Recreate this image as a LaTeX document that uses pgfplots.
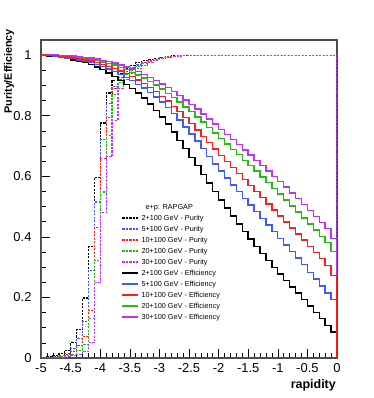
\documentclass[border=0pt]{standalone}
\usepackage{fontspec}
\setmainfont{Liberation Sans}
\usepackage{pgfplots}
\usepackage{pgfplotstable}
\pgfplotsset{compat=1.18}

\definecolor{cblue}{RGB}{60,90,255}
\definecolor{cred}{RGB}{255,30,30}
\definecolor{cgreen}{RGB}{40,185,20}
\definecolor{cpurple}{RGB}{190,50,255}

% efficiency, bin left edges (width 0.1)
\pgfplotstableread{
x     e2    e5    e10   e20   e30
-5.0  0     0     0     0     0
-5.0  0.999 0.999 1.000 1.000 1.000
-4.9  0.997 0.998 0.999 1.000 1.000
-4.8  0.995 0.996 0.998 0.999 1.000
-4.7  0.992 0.994 0.996 0.998 0.999
-4.6  0.988 0.991 0.994 0.997 0.998
-4.5  0.984 0.988 0.991 0.995 0.997
-4.4  0.980 0.984 0.988 0.993 0.995
-4.3  0.975 0.980 0.984 0.990 0.993
-4.2  0.969 0.975 0.980 0.987 0.990
-4.1  0.961 0.969 0.975 0.983 0.987
-4.0  0.952 0.962 0.969 0.978 0.983
-3.9  0.941 0.954 0.963 0.973 0.979
-3.8  0.929 0.946 0.956 0.967 0.974
-3.7  0.917 0.937 0.948 0.960 0.968
-3.6  0.904 0.927 0.939 0.952 0.961
-3.5  0.890 0.916 0.929 0.943 0.954
-3.4  0.875 0.904 0.918 0.934 0.946
-3.3  0.858 0.891 0.906 0.924 0.937
-3.2  0.839 0.877 0.893 0.913 0.927
-3.1  0.818 0.862 0.879 0.901 0.916
-3.0  0.796 0.845 0.864 0.888 0.905
-2.9  0.772 0.827 0.848 0.874 0.893
-2.8  0.746 0.807 0.831 0.860 0.880
-2.7  0.719 0.786 0.813 0.845 0.866
-2.6  0.691 0.763 0.794 0.829 0.852
-2.5  0.663 0.740 0.774 0.813 0.837
-2.4  0.635 0.716 0.753 0.796 0.822
-2.3  0.606 0.691 0.732 0.779 0.806
-2.2  0.578 0.666 0.711 0.761 0.789
-2.1  0.550 0.641 0.690 0.743 0.772
-2.0  0.522 0.617 0.669 0.725 0.755
-1.9  0.495 0.594 0.649 0.707 0.738
-1.8  0.469 0.571 0.629 0.689 0.721
-1.7  0.443 0.549 0.609 0.671 0.704
-1.6  0.418 0.527 0.589 0.653 0.687
-1.5  0.393 0.505 0.569 0.635 0.670
-1.4  0.369 0.483 0.549 0.617 0.653
-1.3  0.345 0.461 0.529 0.598 0.636
-1.2  0.322 0.439 0.509 0.579 0.618
-1.1  0.299 0.417 0.489 0.560 0.600
-1.0  0.277 0.395 0.469 0.541 0.582
-0.9  0.256 0.373 0.449 0.522 0.564
-0.8  0.235 0.351 0.429 0.502 0.545
-0.7  0.214 0.330 0.409 0.482 0.526
-0.6  0.194 0.309 0.389 0.462 0.507
-0.5  0.172 0.283 0.369 0.442 0.488
-0.4  0.151 0.261 0.349 0.422 0.468
-0.3  0.130 0.238 0.329 0.402 0.448
-0.2  0.108 0.215 0.306 0.381 0.428
-0.1  0.086 0.193 0.273 0.352 0.395
 0.0  0     0     0     0     0
}\eff

% purity
\pgfplotstableread{
x     p2    p5    p10   p20   p30
-5.0  0     0     0     0     0
-5.0  0.002 0.001 0.000 0.000 0.000
-4.9  0.004 0.002 0.001 0.001 0.000
-4.8  0.008 0.005 0.003 0.002 0.001
-4.7  0.014 0.009 0.006 0.004 0.002
-4.6  0.025 0.016 0.011 0.007 0.004
-4.5  0.050 0.032 0.021 0.013 0.007
-4.4  0.095 0.065 0.040 0.025 0.012
-4.3  0.198 0.120 0.070 0.045 0.022
-4.2  0.367 0.290 0.158 0.130 0.050
-4.1  0.597 0.515 0.430 0.323 0.250
-4.0  0.776 0.720 0.660 0.548 0.480
-3.9  0.875 0.840 0.795 0.736 0.664
-3.8  0.917 0.895 0.890 0.870 0.785
-3.7  0.940 0.925 0.920 0.910 0.890
-3.6  0.955 0.945 0.940 0.935 0.920
-3.5  0.966 0.958 0.955 0.950 0.940
-3.4  0.975 0.968 0.966 0.962 0.955
-3.3  0.981 0.976 0.975 0.972 0.967
-3.2  0.986 0.982 0.982 0.980 0.976
-3.1  0.990 0.987 0.987 0.986 0.983
-3.0  0.993 0.991 0.991 0.990 0.988
-2.9  0.995 0.994 0.994 0.993 0.992
-2.8  0.997 0.996 0.996 0.995 0.995
-2.7  0.998 0.997 0.997 0.997 0.997
-2.6  0.999 0.998 0.998 0.998 0.998
-2.5  0.999 0.999 0.999 0.999 0.999
-2.4  1.000 1.000 1.000 1.000 1.000
-0.1  1.000 1.000 1.000 1.000 1.000
 0.0  0     0     0     0     0
}\pur

\begin{document}
\begin{tikzpicture}
\begin{axis}[
    name=ax,
    scale only axis,
    width=296bp, height=318bp,
    xmin=-5, xmax=0, ymin=0, ymax=1.05,
    xtick={-5,-4.5,-4,-3.5,-3,-2.5,-2,-1.5,-1,-0.5,0},
    ytick={0,0.2,0.4,0.6,0.8,1},
    minor x tick num=4, minor y tick num=3,
    tick align=inside, xtick pos=left, ytick pos=left,
    major tick length=9bp, minor tick length=4.5bp,
    axis line style={line width=1.2bp, black!70},
    tick style={black, line width=0.5bp},
    ticklabel style={font=\fontsize{13}{15}\selectfont},
    xticklabel style={yshift=-2bp},
    yticklabel style={xshift=-6bp},
    /pgf/number format/assume math mode=true,
    legend cell align=left,
    legend style={draw=none, fill=none, at={(axis description cs:0.27,0.485)},
        anchor=north west, font=\fontsize{7.3}{8}\selectfont,
        row sep=4.8bp, inner sep=0pt,
        nodes={inner xsep=2bp, inner ysep=0pt, text height=5.2bp, text depth=1bp}},
    legend image code/.code={\draw[#1] (0bp,0bp) -- (16bp,0bp);},
]
\addlegendimage{empty legend}
\addlegendentry{\hspace{4bp}e+p: RAPGAP}

% purity (dashed)
\addplot[const plot, forget plot, black,   line width=1.1bp, dash pattern=on 2.2bp off 1.3bp] table[x=x, y=p2]  {\pur};
\addplot[const plot, forget plot, cblue,   line width=1.1bp, dash pattern=on 2.2bp off 1.3bp] table[x=x, y=p5]  {\pur};
\addplot[const plot, forget plot, cred,    line width=1.1bp, dash pattern=on 2.2bp off 1.3bp] table[x=x, y=p10] {\pur};
\addplot[const plot, forget plot, cgreen,  line width=1.1bp, dash pattern=on 2.2bp off 1.3bp] table[x=x, y=p20] {\pur};
\addplot[const plot, forget plot, cpurple, line width=1.1bp, dash pattern=on 2.2bp off 1.3bp] table[x=x, y=p30] {\pur};

% efficiency (solid)
\addplot[const plot, forget plot, black,   line width=1.4bp] table[x=x, y=e2]  {\eff};
\addplot[const plot, forget plot, cblue,   line width=1.4bp] table[x=x, y=e5]  {\eff};
\addplot[const plot, forget plot, cgreen,  line width=1.4bp] table[x=x, y=e20] {\eff};
\addplot[const plot, forget plot, cpurple, line width=1.4bp] table[x=x, y=e30] {\eff};
\addplot[const plot, forget plot, cred,    line width=1.4bp] table[x=x, y=e10] {\eff};

\addlegendimage{black,   line width=1.3bp, dash pattern=on 2.2bp off 1.3bp}\addlegendentry{2+100 GeV - Purity}
\addlegendimage{cblue,   line width=1.3bp, dash pattern=on 2.2bp off 1.3bp}\addlegendentry{5+100 GeV - Purity}
\addlegendimage{cred,    line width=1.3bp, dash pattern=on 2.2bp off 1.3bp}\addlegendentry{10+100 GeV - Purity}
\addlegendimage{cgreen,  line width=1.3bp, dash pattern=on 2.2bp off 1.3bp}\addlegendentry{20+100 GeV - Purity}
\addlegendimage{cpurple, line width=1.3bp, dash pattern=on 2.2bp off 1.3bp}\addlegendentry{30+100 GeV - Purity}
\addlegendimage{black,   line width=2.4bp}\addlegendentry{2+100 GeV - Efficiency}
\addlegendimage{cblue,   line width=2.4bp}\addlegendentry{5+100 GeV - Efficiency}
\addlegendimage{cred,    line width=2.4bp}\addlegendentry{10+100 GeV - Efficiency}
\addlegendimage{cgreen,  line width=2.4bp}\addlegendentry{20+100 GeV - Efficiency}
\addlegendimage{cpurple, line width=2.4bp}\addlegendentry{30+100 GeV - Efficiency}
\end{axis}
\path (ax.north west) ++(-37bp,11bp) node[rotate=90, anchor=north east, inner sep=0pt,
    font=\bfseries\fontsize{10.8}{13}\selectfont] {Purity/Efficiency};
\path (ax.south east) ++(-1bp,-21bp) node[anchor=north east, inner sep=0pt,
    font=\bfseries\fontsize{12.5}{15}\selectfont] {rapidity};
\path (ax.south west) ++(-41bp,-40bp) coordinate (bl);
\path (ax.north east) ++(37bp,40bp) coordinate (tr);
\pgfresetboundingbox
\path[use as bounding box] (bl) rectangle (tr);
\end{tikzpicture}
\end{document}
